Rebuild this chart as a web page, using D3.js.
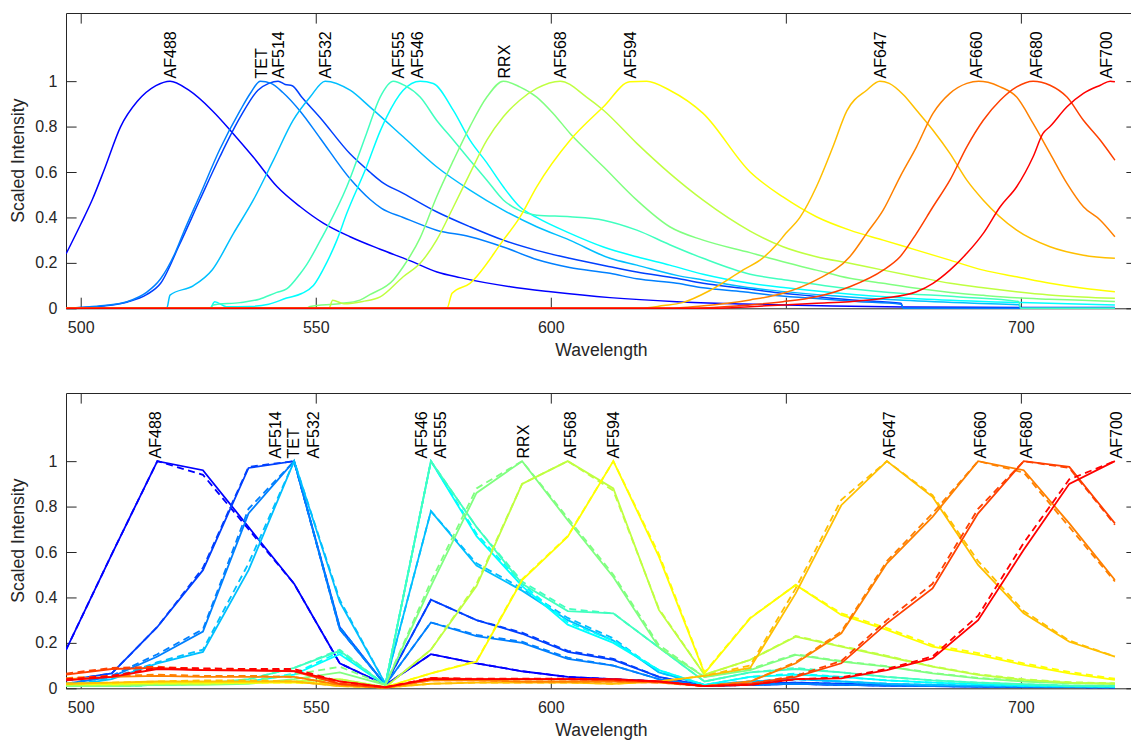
<!DOCTYPE html>
<html lang="en">
<head>
<meta charset="UTF-8">
<title>Dye spectra</title>
<script src="https://cdn.jsdelivr.net/npm/d3@7"></script>
<style>
  body { margin: 0; background: #fff; }
  svg text { font-family: "Liberation Sans", Arial, Helvetica, sans-serif; }
</style>
</head>
<body>
<div class="chart"></div>
<script>
// dyes in colour order
const dyes = ['AF488', 'AF514', 'TET', 'AF532', 'AF546', 'AF555', 'RRX', 'AF568', 'AF594', 'AF647', 'AF660', 'AF680', 'AF700']
const colors = ['#0000ff', '#0040ff', '#0080ff', '#00bfff', '#00ffff', '#40ffbf', '#80ff80', '#bfff40', '#ffff00', '#ffbf00', '#ff8000', '#ff4000', '#ff0000']

const xTicks = [500, 550, 600, 650, 700]
const yTicks = [0, 0.2, 0.4, 0.6, 0.8, 1]

// top panel: full emission spectra [wavelength, scaled intensity]
const topAF488 = [[496.9,0.24],[500,0.37],[502.5,0.48],[505,0.61],[508.5,0.80],[512,0.91],[516,0.98],[519,1.0],[523,0.96],[528,0.87],[532.4,0.77],[536.7,0.666],[541.8,0.535],[546.7,0.447],[551.6,0.375],[557.3,0.315],[563.7,0.26],[570,0.21],[575.8,0.16],[580.7,0.135],[591.4,0.095],[600,0.073],[612.6,0.047],[626.8,0.029],[640.9,0.019],[660,0.01],[675,0.006],[700,0.004],[720,0.003]]
const topAF514 = [[496.9,0],[500,0.003],[505,0.01],[510,0.028],[514,0.06],[517,0.11],[521,0.28],[525.4,0.48],[529.6,0.667],[533.9,0.84],[537.7,0.96],[540,0.99],[542,1.0],[543.5,0.985],[545,0.98],[547,0.93],[550.9,0.84],[557.3,0.68],[561.5,0.60],[564,0.557],[568.6,0.506],[575.7,0.425],[582.8,0.359],[589.9,0.30],[597,0.255],[604,0.22],[612.6,0.183],[618.3,0.16],[626.8,0.132],[632.4,0.11],[640.9,0.088],[646.6,0.073],[655,0.055],[665,0.035],[674.5,0.022],[675,0],[720,0]]
const topTET = [[496.9,0],[500,0.004],[505,0.012],[510,0.03],[514,0.07],[517,0.13],[520,0.24],[522,0.34],[525.4,0.50],[529.6,0.70],[533.9,0.87],[536.2,0.95],[538.2,1.0],[540.5,0.99],[543,0.95],[546.6,0.87],[550.9,0.75],[557.3,0.57],[561.5,0.48],[564,0.44],[568.6,0.40],[575.7,0.344],[582.8,0.315],[589.9,0.27],[597,0.215],[604,0.18],[612.6,0.154],[618.3,0.13],[626.8,0.11],[632.4,0.09],[640.9,0.073],[646.6,0.059],[655,0.045],[665,0.03],[674.5,0.018],[675,0],[720,0]]
const topAF532 = [[496.9,0],[518.3,0],[519,0.058],[524,0.10],[528,0.17],[532.5,0.33],[536.7,0.476],[541,0.652],[545.2,0.828],[548.8,0.93],[552,1.0],[557.3,0.96],[561.5,0.887],[568.6,0.755],[575.7,0.623],[582.8,0.52],[589.9,0.432],[597,0.359],[604,0.30],[612.6,0.22],[618.3,0.19],[626.8,0.145],[632.4,0.125],[640.9,0.095],[646.6,0.08],[660,0.055],[675,0.035],[690,0.022],[699.5,0.016],[700,0],[720,0]]
const topAF546 = [[496.9,0],[527.5,0],[528.5,0.029],[531,0.007],[536,0.008],[540,0.018],[543.8,0.045],[547,0.065],[549.5,0.10],[552.3,0.20],[554.5,0.30],[556.6,0.418],[560.8,0.623],[563.7,0.78],[565.1,0.843],[568.6,0.96],[572.2,1.0],[575,0.99],[579.3,0.87],[582.8,0.74],[586.4,0.64],[589.9,0.535],[593.4,0.447],[597,0.40],[604.1,0.33],[611.2,0.27],[618.3,0.227],[625.3,0.19],[632.4,0.15],[642.4,0.11],[650,0.09],[665,0.06],[680,0.04],[700,0.025],[720,0.015]]
const topAF555 = [[496.9,0],[527.5,0],[528.2,0.015],[533.9,0.025],[538,0.04],[541.7,0.07],[543.8,0.085],[546.6,0.15],[548,0.19],[551,0.30],[552.3,0.35],[556.6,0.535],[560.8,0.77],[563.7,0.93],[566.5,1.0],[569,0.98],[572.2,0.93],[575.7,0.828],[579.3,0.74],[582.8,0.652],[586.4,0.564],[589.9,0.477],[593.4,0.43],[597,0.41],[604.1,0.403],[611.2,0.388],[618.3,0.344],[625.3,0.28],[632.4,0.22],[642.4,0.15],[650,0.125],[660,0.095],[672,0.07],[687,0.05],[699.5,0.03],[700,0],[720,0]]
const topRRX = [[496.9,0],[548,0],[548.8,0.008],[555,0.02],[559.4,0.036],[561.5,0.06],[566.5,0.125],[568.6,0.183],[572.2,0.31],[575.7,0.49],[579.3,0.652],[582.8,0.80],[586.4,0.93],[589.9,1.0],[593.4,0.975],[597,0.93],[600.5,0.858],[604.1,0.77],[607.6,0.696],[611.2,0.623],[618.3,0.476],[625.3,0.359],[632.4,0.30],[642.4,0.245],[649.4,0.205],[656.5,0.168],[663.6,0.132],[670.7,0.11],[677.8,0.088],[685,0.07],[692,0.057],[699,0.046],[706,0.04],[713,0.035],[720,0.03]]
const topAF568 = [[496.9,0],[552.8,0],[553.6,0.035],[556,0.02],[560,0.03],[563.7,0.05],[568.6,0.139],[572.2,0.198],[575.7,0.30],[579.3,0.447],[582.8,0.594],[586.4,0.74],[589.9,0.843],[593.4,0.916],[597,0.968],[602,1.0],[607.6,0.93],[611.2,0.872],[618.3,0.726],[625.3,0.594],[632.4,0.476],[642.4,0.34],[649.4,0.271],[656.5,0.227],[663.6,0.198],[670.7,0.168],[677.8,0.139],[685,0.11],[692,0.09],[699,0.073],[706,0.059],[713,0.05],[720,0.044]]
const topAF594 = [[496.9,0],[577.9,0],[579,0.066],[582.8,0.11],[589.9,0.30],[593.4,0.40],[597,0.535],[604.1,0.74],[611.2,0.887],[616.8,0.997],[620.4,1.0],[625.3,0.96],[632.4,0.858],[642.4,0.60],[649.4,0.49],[656.5,0.403],[663.6,0.344],[670.7,0.30],[677.8,0.256],[684.9,0.212],[692,0.168],[699.1,0.139],[706.2,0.11],[713.3,0.088],[720,0.073]]
const topAF647 = [[496.9,0],[619,0],[624,0.012],[628,0.025],[634,0.08],[641,0.17],[645,0.22],[648,0.28],[650,0.33],[653,0.40],[656.5,0.535],[660,0.71],[663,0.87],[667.2,0.96],[670,1.0],[672,0.99],[675,0.94],[677.8,0.872],[681.3,0.784],[684.9,0.682],[688.5,0.564],[692,0.476],[699.1,0.344],[706.2,0.271],[713.3,0.234],[720,0.22]]
const topAF660 = [[496.9,0],[625,0],[632,0.01],[642.4,0.037],[649.4,0.066],[656.5,0.125],[663.6,0.227],[667.2,0.33],[670.7,0.432],[674.3,0.579],[677.8,0.711],[681.3,0.858],[684.9,0.946],[688.5,0.99],[691,1.0],[693,0.995],[695.6,0.975],[699.1,0.93],[702.6,0.814],[706.2,0.682],[709.8,0.55],[713.3,0.447],[716.9,0.388],[720,0.315]]
const topAF680 = [[496.9,0],[630,0],[642.4,0.015],[649.4,0.029],[656.5,0.051],[663.6,0.095],[670.7,0.168],[674.3,0.227],[677.8,0.33],[681.3,0.447],[684.9,0.564],[688.5,0.711],[692,0.828],[695.6,0.916],[699.1,0.975],[702.6,1.0],[706.2,0.982],[709.8,0.93],[713.3,0.828],[716.9,0.74],[720,0.652]]
const topAF700 = [[496.9,0],[635,0],[642.4,0.007],[649.4,0.015],[656.5,0.022],[663.6,0.029],[670.7,0.044],[677.8,0.073],[681.3,0.11],[684.9,0.168],[688.5,0.242],[692,0.33],[695.6,0.447],[699.1,0.535],[702.6,0.667],[704.7,0.77],[706.2,0.80],[709.8,0.887],[713.3,0.946],[716.9,0.982],[719,1.0],[720,0.997]]
const topLabelWl = [519, 542, 538.4, 552, 571.5, 567.6, 590, 602, 617, 670, 690.6, 703.3, 718.2]

// bottom panel: detector channels
const binWl = [496.9, 506.6, 516.3, 526.0, 535.7, 545.4, 555.1, 564.8, 574.5, 584.2, 593.9, 603.6, 613.3, 623.0, 632.7, 642.4, 652.1, 661.8, 671.5, 681.2, 690.9, 700.6, 710.3, 720.0]
const binAF488 = [0.17,0.59,1.00,0.96,0.71,0.46,0.11,0.015,0.15,0.11,0.075,0.05,0.04,0.03,0.012,0.015,0.02,0.015,0.012,0.01,0.008,0.006,0.005,0.004]
const binAF514 = [0.035,0.066,0.27,0.52,0.97,1.00,0.27,0.015,0.39,0.30,0.24,0.16,0.125,0.05,0.012,0.02,0.025,0.02,0.015,0.012,0.01,0.008,0.006,0.005]
const binTET = [0.02,0.05,0.14,0.25,0.77,1.00,0.26,0.015,0.29,0.23,0.20,0.13,0.10,0.04,0.01,0.015,0.02,0.015,0.012,0.01,0.008,0.006,0.005,0.004]
const binAF532 = [0.01,0.04,0.11,0.16,0.52,1.00,0.38,0.02,0.78,0.54,0.43,0.30,0.21,0.07,0.015,0.03,0.04,0.03,0.02,0.015,0.012,0.01,0.008,0.006]
const binAF546 = [0.01,0.01,0.015,0.02,0.03,0.06,0.15,0.015,1.00,0.67,0.45,0.28,0.20,0.08,0.015,0.05,0.06,0.05,0.035,0.025,0.018,0.012,0.01,0.008]
const binAF555 = [0.01,0.01,0.015,0.02,0.04,0.09,0.165,0.015,1.00,0.71,0.46,0.34,0.33,0.18,0.03,0.07,0.085,0.07,0.05,0.035,0.025,0.018,0.012,0.01]
const binRRX = [0.01,0.01,0.015,0.015,0.02,0.04,0.07,0.015,0.45,0.86,1.00,0.74,0.49,0.18,0.05,0.08,0.147,0.117,0.095,0.066,0.044,0.03,0.022,0.02]
const binAF568 = [0.015,0.015,0.02,0.02,0.025,0.03,0.04,0.005,0.17,0.45,0.90,1.00,0.88,0.345,0.06,0.125,0.227,0.183,0.14,0.095,0.059,0.037,0.025,0.02]
const binAF594 = [0.02,0.02,0.025,0.025,0.025,0.025,0.02,0.005,0.066,0.117,0.476,0.667,1.00,0.58,0.066,0.308,0.455,0.323,0.257,0.183,0.147,0.103,0.066,0.037]
const binAF647 = [0.02,0.025,0.03,0.03,0.03,0.03,0.01,0.003,0.02,0.025,0.025,0.025,0.02,0.03,0.055,0.09,0.418,0.806,1.00,0.843,0.543,0.33,0.205,0.139]
const binAF660 = [0.04,0.05,0.055,0.05,0.05,0.05,0.015,0.003,0.035,0.035,0.03,0.03,0.03,0.025,0.01,0.03,0.11,0.242,0.55,0.755,1.00,0.96,0.726,0.477]
const binAF680 = [0.06,0.085,0.09,0.08,0.08,0.075,0.02,0.003,0.045,0.04,0.04,0.04,0.035,0.03,0.01,0.02,0.05,0.11,0.286,0.44,0.77,1.00,0.975,0.726]
const binAF700 = [0.035,0.05,0.085,0.08,0.078,0.076,0.03,0.005,0.04,0.04,0.04,0.04,0.04,0.03,0.01,0.015,0.04,0.044,0.08,0.132,0.30,0.61,0.90,1.00]
// dashed companions
const dashAF488 = [0.17,0.59,1.00,0.94,0.70,0.46,0.11,0.015,0.15,0.11,0.075,0.05,0.04,0.03,0.012,0.015,0.02,0.015,0.012,0.01,0.008,0.006,0.005,0.004]
const dashAF514 = [0.035,0.066,0.27,0.53,0.975,1.00,0.26,0.015,0.39,0.30,0.245,0.165,0.13,0.05,0.012,0.02,0.025,0.02,0.015,0.012,0.01,0.008,0.006,0.005]
const dashTET = [0.02,0.055,0.15,0.26,0.79,1.00,0.27,0.015,0.29,0.235,0.205,0.135,0.10,0.04,0.01,0.015,0.02,0.015,0.012,0.01,0.008,0.006,0.005,0.004]
const dashAF532 = [0.01,0.045,0.115,0.17,0.55,1.00,0.39,0.02,0.78,0.55,0.44,0.31,0.22,0.07,0.015,0.03,0.04,0.03,0.02,0.015,0.012,0.01,0.008,0.006]
const dashAF546 = [0.01,0.01,0.015,0.02,0.03,0.065,0.16,0.015,1.00,0.68,0.46,0.29,0.21,0.08,0.015,0.05,0.065,0.05,0.035,0.025,0.018,0.012,0.01,0.008]
const dashAF555 = [0.01,0.01,0.015,0.02,0.04,0.09,0.17,0.015,1.00,0.71,0.47,0.35,0.33,0.18,0.03,0.07,0.09,0.07,0.05,0.035,0.025,0.018,0.012,0.01]
const dashRRX = [0.01,0.01,0.015,0.02,0.03,0.06,0.095,0.015,0.47,0.88,1.00,0.75,0.50,0.19,0.05,0.085,0.15,0.12,0.097,0.068,0.046,0.032,0.024,0.02]
const dashAF568 = [0.015,0.015,0.02,0.02,0.025,0.03,0.04,0.005,0.17,0.46,0.90,1.00,0.87,0.35,0.06,0.125,0.23,0.186,0.143,0.097,0.062,0.04,0.027,0.022]
const dashAF594 = [0.02,0.02,0.025,0.025,0.025,0.025,0.02,0.005,0.066,0.12,0.48,0.67,1.00,0.59,0.07,0.31,0.455,0.33,0.265,0.19,0.155,0.11,0.072,0.042]
const dashAF647 = [0.02,0.025,0.03,0.035,0.035,0.03,0.01,0.003,0.02,0.025,0.025,0.025,0.02,0.03,0.055,0.1,0.44,0.83,1.00,0.85,0.56,0.34,0.21,0.14]
const dashAF660 = [0.045,0.055,0.06,0.055,0.055,0.05,0.015,0.003,0.035,0.035,0.03,0.03,0.03,0.025,0.01,0.03,0.115,0.25,0.56,0.77,1.00,0.95,0.71,0.47]
const dashAF680 = [0.065,0.09,0.095,0.085,0.085,0.08,0.02,0.003,0.045,0.04,0.04,0.04,0.035,0.03,0.01,0.02,0.055,0.12,0.30,0.46,0.79,1.00,0.97,0.72]
const dashAF700 = [0.04,0.055,0.09,0.088,0.085,0.085,0.03,0.005,0.045,0.042,0.042,0.042,0.04,0.03,0.01,0.015,0.04,0.048,0.085,0.14,0.32,0.64,0.92,1.00]
const binLabelWl = [515.8, 541.3, 545.2, 549.5, 572.5, 576.4, 594.1, 604.1, 613.2, 672.1, 691.3, 701.2, 720.2]

const topSpectra = [topAF488, topAF514, topTET, topAF532, topAF546, topAF555, topRRX, topAF568, topAF594, topAF647, topAF660, topAF680, topAF700]
const binSolid = [binAF488, binAF514, binTET, binAF532, binAF546, binAF555, binRRX, binAF568, binAF594, binAF647, binAF660, binAF680, binAF700]
const binDashed = [dashAF488, dashAF514, dashTET, dashAF532, dashAF546, dashAF555, dashRRX, dashAF568, dashAF594, dashAF647, dashAF660, dashAF680, dashAF700]

const width = 1131
const height = 742
const axisColor = '#262626'
const tickLen = 10.6

const x = d3.scaleLinear().domain([496.87, 724.7]).range([66, 1137])
const yTop = d3.scaleLinear().domain([0, 1.3]).range([308.3, 13])
const yBot = d3.scaleLinear().domain([0, 1.3]).range([688.3, 393])

const svg = d3.select('.chart')
    .append('svg')
    .attr('width', width)
    .attr('height', height)

svg.append('rect').attr('width', width).attr('height', height).attr('fill', '#fff')

function drawFrame(y, id) {
    const [yb, yt] = y.range()
    const [xl, xr] = x.range()
    const g = svg.append('g').attr('class', 'frame')

    const styleAxis = sel => {
        sel.attr('font-size', 16)
            .attr('font-family', '"Liberation Sans", Arial, sans-serif')
            .attr('color', axisColor)
        sel.select('.domain').attr('stroke', axisColor)
        sel.selectAll('.tick line').attr('stroke', axisColor)
    }

    g.append('g').attr('transform', `translate(0,${yb})`)
        .call(d3.axisBottom(x).tickValues(xTicks).tickSize(-tickLen).tickSizeOuter(0).tickPadding(13))
        .call(styleAxis)
    g.append('g').attr('transform', `translate(0,${yt})`)
        .call(d3.axisTop(x).tickValues(xTicks).tickSize(-tickLen).tickSizeOuter(0).tickFormat(''))
        .call(styleAxis)
    g.append('g').attr('transform', `translate(${xl},0)`)
        .call(d3.axisLeft(y).tickValues(yTicks).tickSize(-tickLen).tickSizeOuter(0).tickPadding(8.5).tickFormat(d3.format('.1~f')))
        .call(styleAxis)
    g.append('g').attr('transform', `translate(${xr},0)`)
        .call(d3.axisRight(y).tickValues(yTicks).tickSize(-tickLen).tickSizeOuter(0).tickFormat(''))
        .call(styleAxis)

    g.append('text')
        .attr('x', (xl + xr) / 2)
        .attr('y', yb + 47.7)
        .attr('text-anchor', 'middle')
        .attr('font-size', 17.6)
        .attr('fill', axisColor)
        .text('Wavelength')
    g.append('text')
        .attr('transform', `translate(24,${(yb + yt) / 2}) rotate(-90)`)
        .attr('text-anchor', 'middle')
        .attr('font-size', 17.6)
        .attr('fill', axisColor)
        .text('Scaled Intensity')

    svg.append('clipPath').attr('id', id)
        .append('rect')
        .attr('x', xl).attr('y', yt - 2)
        .attr('width', xr - xl).attr('height', yb - yt + 4)
}

function drawLabels(y, wls) {
    svg.append('g').selectAll('text')
        .data(dyes)
        .enter()
        .append('text')
        .attr('transform', (d, i) => `translate(${x(wls[i])},${y(1) - 2.7}) rotate(-90)`)
        .attr('dy', '0.36em')
        .attr('font-size', 16)
        .attr('fill', '#000')
        .text(d => d)
}

// top panel
drawFrame(yTop, 'clipTop')
const topLine = d3.line()
    .x(d => x(d[0]))
    .y(d => yTop(d[1]))
    .curve(d3.curveMonotoneX)

svg.append('g')
    .attr('clip-path', 'url(#clipTop)')
    .selectAll('path')
    .data(topSpectra)
    .enter()
    .append('path')
    .attr('d', topLine)
    .attr('fill', 'none')
    .attr('stroke', (d, i) => colors[i])
    .attr('stroke-width', 1.5)
    .attr('stroke-linejoin', 'round')

drawLabels(yTop, topLabelWl)

// bottom panel
drawFrame(yBot, 'clipBot')
const binLine = d3.line()
    .x((d, i) => x(binWl[i]))
    .y(d => yBot(d))

const bottomG = svg.append('g').attr('clip-path', 'url(#clipBot)')
dyes.forEach((name, i) => {
    bottomG.append('path')
        .attr('d', binLine(binSolid[i]))
        .attr('fill', 'none')
        .attr('stroke', colors[i])
        .attr('stroke-width', 1.8)
    bottomG.append('path')
        .attr('d', binLine(binDashed[i]))
        .attr('fill', 'none')
        .attr('stroke', colors[i])
        .attr('stroke-width', 1.8)
        .attr('stroke-dasharray', '7,4.5')
})

drawLabels(yBot, binLabelWl)
</script>
</body>
</html>
